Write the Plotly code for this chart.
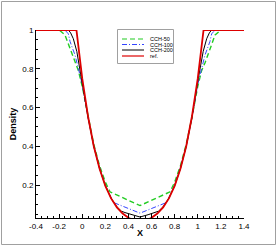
import plotly.graph_objects as go

# ---------------- data ----------------
x_cch50 = [-0.4, -0.2, -0.15, -0.105, -0.062, -0.033, 0.0, 0.05, 0.1, 0.15, 0.2, 0.24,
           0.5, 0.76, 0.8, 0.85, 0.9, 0.95, 1.0, 1.033, 1.062, 1.105, 1.15, 1.2, 1.4]
y_cch50 = [1, 1, 0.975, 0.9, 0.83, 0.79, 0.71, 0.55, 0.41, 0.30, 0.215, 0.165,
           0.094, 0.165, 0.215, 0.30, 0.41, 0.55, 0.71, 0.79, 0.83, 0.9, 0.975, 1, 1]

x_cch100 = [-0.4, -0.15, -0.12, -0.105, -0.062, -0.033, 0.0, 0.05, 0.1, 0.15, 0.2, 0.25, 0.27,
            0.5, 0.73, 0.75, 0.8, 0.85, 0.9, 0.95, 1.0, 1.033, 1.062, 1.105, 1.12, 1.15, 1.4]
y_cch100 = [1, 1, 0.98, 0.94, 0.87, 0.80, 0.72, 0.55, 0.40, 0.29, 0.20, 0.135, 0.11,
            0.055, 0.11, 0.135, 0.20, 0.29, 0.40, 0.55, 0.72, 0.80, 0.87, 0.94, 0.98, 1, 1]

x_cch200 = [-0.4, -0.12, -0.1, -0.077, -0.047, -0.033, 0.0, 0.05, 0.1, 0.15, 0.2, 0.25, 0.3,
            0.34, 0.37, 0.43, 0.5, 0.57, 0.63, 0.66, 0.7, 0.75, 0.8, 0.85, 0.9, 0.95, 1.0,
            1.033, 1.047, 1.077, 1.1, 1.12, 1.4]
y_cch200 = [1, 1, 0.985, 0.955, 0.89, 0.84, 0.735, 0.55, 0.40, 0.285, 0.197, 0.132, 0.088,
            0.065, 0.058, 0.047, 0.035, 0.047, 0.058, 0.065, 0.088, 0.132, 0.197, 0.285, 0.40, 0.55, 0.735,
            0.84, 0.89, 0.955, 0.985, 1, 1]

x_ref = [-0.4, -0.05, 0.0, 0.05, 0.1, 0.15, 0.2, 0.25, 0.3, 0.35, 0.4, 0.43,
         0.57, 0.6, 0.65, 0.7, 0.75, 0.8, 0.85, 0.9, 0.95, 1.0, 1.05, 1.4]
y_ref = [1, 1, 0.75, 0.555, 0.40, 0.284, 0.196, 0.131, 0.085, 0.053, 0.031, 0.022,
         0.022, 0.031, 0.053, 0.085, 0.131, 0.196, 0.284, 0.40, 0.555, 0.75, 1, 1]

x_tickvals = [-0.4, -0.2, 0, 0.2, 0.4, 0.6, 0.8, 1, 1.2, 1.4]
x_ticktext = ["-0.4", "-0.2", "0", "0.2", "0.4", "0.6", "0.8", "1", "1.2", "1.4"]
y_tickvals = [0.2, 0.4, 0.6, 0.8, 1]
y_ticktext = ["0.2", "0.4", "0.6", "0.8", "1"]

series_names = ["CCH-50", "CCH-100", "CCH-200", "ref."]

# ---------------- styling ----------------
FONT = "Liberation Sans, Arial, sans-serif"
W, H = 277, 246
ML, MR, MT, MB = 36, 33, 30, 28

styles = [
    dict(color="#22cc22", width=1.4, dash="5px,3px"),
    dict(color="#3344ff", width=1.0, dash="5px,2px,1px,2px"),
    dict(color="#000000", width=1.0, dash="solid"),
    dict(color="#dd0000", width=1.8, dash="solid"),
]

xs = [x_cch50, x_cch100, x_cch200, x_ref]
ys = [y_cch50, y_cch100, y_cch200, y_ref]

fig = go.Figure()
for name, xv, yv, st in zip(series_names, xs, ys, styles):
    fig.add_trace(go.Scatter(x=xv, y=yv, mode="lines", name=name, line=st,
                             showlegend=False))

pw = W - ML - MR
ph = H - MT - MB


def px2paper_x(px):
    return (px - ML) / pw


def px2paper_y(py):
    return 1 - (py - MT) / ph


shapes = []
annotations = []

# outer grey frame
shapes.append(dict(type="rect", xref="paper", yref="paper",
                   x0=px2paper_x(1.5), x1=px2paper_x(275.5),
                   y0=px2paper_y(244.5), y1=px2paper_y(1.5),
                   line=dict(color="#a0a0a0", width=1), fillcolor="rgba(0,0,0,0)"))

# legend box (drawn manually to match compact Tecplot legend)
shapes.append(dict(type="rect", xref="paper", yref="paper",
                   x0=px2paper_x(117.5), x1=px2paper_x(173.5),
                   y0=px2paper_y(63.5), y1=px2paper_y(29.5),
                   line=dict(color="#a0a0a0", width=1), fillcolor="white"))
rows = [39, 44.5, 50, 56]
for name, st, ry in zip(series_names, styles, rows):
    shapes.append(dict(type="line", xref="paper", yref="paper",
                       x0=px2paper_x(122), x1=px2paper_x(144),
                       y0=px2paper_y(ry), y1=px2paper_y(ry),
                       line=dict(color=st["color"], width=min(st["width"], 1.2), dash=st["dash"])))
    annotations.append(dict(xref="paper", yref="paper", x=px2paper_x(147.5), y=px2paper_y(ry),
                            text=name, showarrow=False, xanchor="left", yanchor="middle",
                            font=dict(family=FONT, size=5.5, color="black")))

fig.update_layout(
    width=W, height=H,
    margin=dict(l=ML, r=MR, t=MT, b=MB, pad=0, autoexpand=False),
    paper_bgcolor="white", plot_bgcolor="white",
    font=dict(family=FONT, size=8, color="black"),
    showlegend=False,
    shapes=shapes,
    annotations=annotations,
    xaxis=dict(range=[-0.4, 1.4], showgrid=False, zeroline=False, automargin=False,
               showline=True, linecolor="black", linewidth=1, mirror=False,
               ticks="inside", ticklen=4, tickcolor="black", tickwidth=1,
               tickvals=x_tickvals, ticktext=x_ticktext,
               tickfont=dict(family=FONT, size=8),
               minor=dict(dtick=0.05, tick0=0, ticks="inside", ticklen=2,
                          tickcolor="black", tickwidth=1, showgrid=False),
               title=dict(text="<b>X</b>", standoff=0,
                          font=dict(family=FONT, size=9))),
    yaxis=dict(range=[0.03, 1.0], showgrid=False, zeroline=False, automargin=False,
               showline=True, linecolor="black", linewidth=1, mirror=False,
               ticks="inside", ticklen=4, tickcolor="black", tickwidth=1,
               tickvals=y_tickvals, ticktext=y_ticktext,
               tickfont=dict(family=FONT, size=8),
               minor=dict(dtick=0.05, tick0=0, ticks="inside", ticklen=2,
                          tickcolor="black", tickwidth=1, showgrid=False),
               title=dict(text="<b>Density</b>", standoff=4,
                          font=dict(family=FONT, size=9))),
)

fig.write_html("out.html", config={"displayModeBar": False},
               post_script="document.body.style.margin='0px';")
